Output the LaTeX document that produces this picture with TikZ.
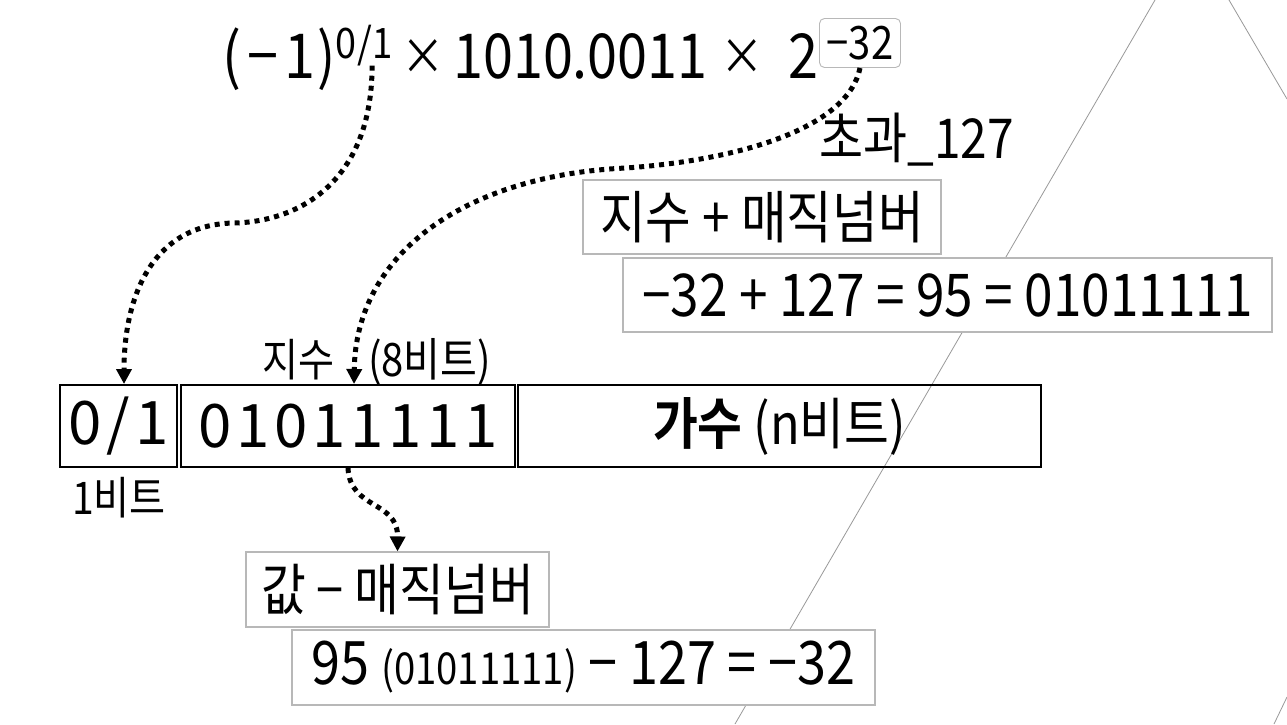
\documentclass[tikz,border=0pt]{standalone}
\usepackage{fontspec}
\setmainfont{Noto Sans CJK KR}[FakeStretch=0.87,BoldFont={Noto Sans CJK KR Bold}]
\newfontfamily\spc[LetterSpace=8]{Noto Sans CJK KR}
\newfontfamily\spcb[LetterSpace=10,FakeStretch=0.9]{Noto Sans CJK KR}
\newfontfamily\spcs[LetterSpace=4,FakeStretch=0.9]{Noto Sans CJK KR}
\usetikzlibrary{arrows.meta}
\newcommand\fsz[1]{\fontsize{#1}{#1}\selectfont}
\begin{document}
\begin{tikzpicture}[x=1pt,y=-1pt,
  gbox/.style={draw=black!28, line width=1.1pt, fill=white, inner sep=0pt},
  bbox/.style={draw=black, line width=2pt, minimum height=82pt, inner sep=0pt},
  dotarrow/.style={line width=5pt, dash pattern=on 5pt off 5pt, -{Triangle[width=15pt,length=15pt]}},
  txt/.style={inner sep=0pt},
  bgline/.style={draw=black!40, line width=0.8pt}
]
\useasboundingbox[fill=white] (0,0) rectangle (1287,724);
% background lines
\draw[bgline] (1155,0) -- (735,724);
\draw[bgline] (1229,0) -- (1287,99);
\draw[bgline] (1287,697) -- (1274,724);

% formula
\node[txt, anchor=base west] (f1) at (222,78) {\fsz{62}{\spcb(−1}\kern2pt)};
\node[txt, anchor=base west] (sup) at (335,58) {\fsz{42}{\spcs0/}1};
\node[txt, anchor=base] (t1) at (423,74) {\fsz{50}×};
\node[txt, anchor=base west] (num) at (453,78) {\fsz{62}1010.0011};
\node[txt, anchor=base] (t2) at (742,74) {\fsz{50}×};
\node[txt, anchor=base west] (two) at (788,78) {\fsz{62}2};
\node[draw=black!28, line width=0.9pt, rounded corners=5pt, minimum width=81pt, minimum height=49pt, inner sep=0pt] (ex) at (860,43) {\fsz{46}−32};

\node[txt, anchor=base west] (excess) at (819,158) {\fsz{55}초과\_127};

\node[gbox, minimum width=358pt, minimum height=74pt] (b1) at (762,217) {\fsz{57}지수 + 매직넘버};
\node[gbox, minimum width=649pt, minimum height=74pt] (b2) at (947.5,295) {\fsz{59}−32 + 127 = 95 = 01011111};

\node[txt, anchor=base west] (lexp) at (262,376) {\fsz{45}지수};
\node[txt, anchor=base west] (lbits) at (368,376) {\fsz{46}(8비트)};

\node[bbox, minimum width=117pt] (sign) at (118.5,426) {\spc\fsz{60}0/1};
\node[bbox, minimum width=334pt] (ebox) at (348,426) {\spc\fsz{60}01011111};
\node[bbox, minimum width=523pt] (mant) at (779.5,426) {\fsz{56}{\bfseries 가수} (n비트)};

\node[txt, anchor=base west] (l1) at (72,514) {\fsz{45}1비트};

\node[gbox, minimum width=303pt, minimum height=75pt] (b3) at (397.5,589.5) {\fsz{56}값 − 매직넘버};
\node[gbox, minimum width=583pt, minimum height=75pt] (b4) at (583.5,667.5) {\fsz{60}95 {\fsz{44}(01011111)} − 127 = −32};

% connectors
\draw[dotarrow] ([xshift=8pt]sup.south) .. controls +(0,115) and (300,222) .. (233,223)
   .. controls (150,225) and (124,300) .. (sign.north -| 124,0);
\draw[dotarrow] (ex.south) .. controls +(-12,60) and (740,160) .. (626,168)
   .. controls (470,175) and (356,250) .. (ebox.north -| 354,0);
\draw[dotarrow] (ebox.south) .. controls +(2,42) and (398,500) .. (b3.north);
\end{tikzpicture}
\end{document}
